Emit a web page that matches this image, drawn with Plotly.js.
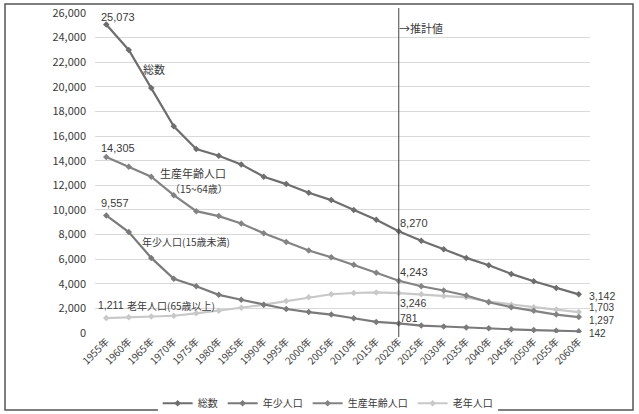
<!DOCTYPE html>
<html>
<head>
<meta charset="utf-8">
<script src="https://cdn.plot.ly/plotly-3.0.1.min.js"></script>
<style>html,body{margin:0;padding:0;background:#fff;}#chart{width:639px;height:414px;}</style>
</head>
<body>
<div id="chart"></div>
<script>
const years = [1955,1960,1965,1970,1975,1980,1985,1990,1995,2000,2005,2010,2015,2020,2025,2030,2035,2040,2045,2050,2055,2060];
const categories = years.map(y => y + '年');
const seriesNames = ['総数','年少人口','生産年齢人口','老年人口'];
const total   = [25073,23000,19900,16800,14950,14400,13700,12700,12100,11400,10800,10000,9200,8270,7500,6800,6100,5500,4800,4200,3650,3142];
const youth   = [9557,8200,6100,4400,3800,3100,2700,2300,1950,1700,1500,1200,900,781,600,530,440,380,300,240,190,142];
const working = [14305,13500,12700,11200,9900,9500,8900,8100,7400,6700,6150,5550,4900,4243,3800,3450,3050,2500,2100,1800,1500,1297];
const elderly = [1211,1280,1350,1400,1600,1800,2050,2300,2600,2900,3150,3250,3300,3246,3150,3000,2900,2550,2300,2100,1900,1703];
const projectionStart = '2020年';

const font = "'Noto Sans CJK JP', 'Noto Sans', sans-serif";
const numFont = "'Liberation Sans', Arial, sans-serif";
const txt = '#3a3a3a';
const colors = ['#6e6e6e','#7a7a7a','#838383','#c8c8c8'];
const data = [total, youth, working, elderly].map((vals, i) => ({
  type: 'scatter', mode: 'lines+markers', name: seriesNames[i],
  x: categories, y: vals,
  line: {color: colors[i], width: 2.2},
  marker: {color: colors[i], size: 5, symbol: 'diamond'},
  legendrank: i + 1
}));
// draw elderly below others
data.unshift(data.pop());

const fmt = v => v.toLocaleString('en-US');
const last = categories.length - 1;
const i2020 = categories.indexOf(projectionStart);
function ann(x, y, text, o, size) {
  return Object.assign({x: x, y: y, xref: 'x', yref: 'y', text: text, showarrow: false,
    font: {family: numFont, size: size || 11, color: txt}}, o || {});
}
function pann(px, py, text, size, o) {
  return Object.assign({xref: 'paper', yref: 'paper', x: (px-95)/495, y: (333-py)/320, xanchor: 'left', yanchor: 'middle',
    text: text, showarrow: false, font: {family: font, size: size, color: txt}}, o || {});
}
const annotations = [
  ann(categories[0], total[0], fmt(total[0]), {xanchor: 'left', yanchor: 'middle', xshift: -7, yshift: 7}),
  ann(categories[0], working[0], fmt(working[0]), {xanchor: 'left', yanchor: 'middle', xshift: -7, yshift: 9}),
  ann(categories[0], youth[0], fmt(youth[0]), {xanchor: 'left', yanchor: 'middle', xshift: -7, yshift: 12}),
  ann(categories[0], elderly[0], fmt(elderly[0]), {xanchor: 'left', yanchor: 'middle', xshift: -10, yshift: 13}, 10.5),
  ann(categories[i2020], total[i2020], fmt(total[i2020]), {xanchor: 'left', yanchor: 'middle', xshift: -1, yshift: 8}),
  ann(categories[i2020], working[i2020], fmt(working[i2020]), {xanchor: 'left', yanchor: 'middle', xshift: -1, yshift: 9}),
  ann(categories[i2020], elderly[i2020], fmt(elderly[i2020]), {xanchor: 'left', yanchor: 'middle', xshift: -1, yshift: -10}, 10.5),
  ann(categories[i2020], youth[i2020], fmt(youth[i2020]), {xanchor: 'left', yanchor: 'middle', xshift: -1, yshift: 5}, 10.5),
  ann(categories[last], total[last], fmt(total[last]), {xanchor: 'left', yanchor: 'middle', xshift: 8, yshift: -2}, 10.5),
  ann(categories[last], elderly[last], fmt(elderly[last]), {xanchor: 'left', yanchor: 'middle', xshift: 8, yshift: 5}, 10),
  ann(categories[last], working[last], fmt(working[last]), {xanchor: 'left', yanchor: 'middle', xshift: 8, yshift: -3}, 10),
  ann(categories[last], youth[last], fmt(youth[last]), {xanchor: 'left', yanchor: 'middle', xshift: 8, yshift: -2}, 10),
  // series name labels
  pann(141, 69, '総数', 11),
  pann(158, 173, '生産年齢人口', 11),
  pann(168, 188, '（15~64歳）', 10),
  pann(140, 241, '年少人口(15歳未満)', 10),
  pann(125, 305, '老年人口(65歳以上)', 10),
  pann(397, 28, '→推計値', 11)
];

const layout = {
  width: 639, height: 414,
  margin: {l: 95, r: 49, t: 13, b: 81, autoexpand: false},
  paper_bgcolor: '#ffffff', plot_bgcolor: '#ffffff',
  font: {family: font, size: 11, color: txt},
  showlegend: true,
  legend: {orientation: 'h', x: 0.47, xanchor: 'center', yref: 'container', y: 0.026, yanchor: 'middle',
    font: {family: font, size: 10, color: txt}, traceorder: 'normal', itemwidth: 30},
  xaxis: {type: 'category', range: [-0.5, 21.5], tickangle: -45, showgrid: false, zeroline: false, automargin: false,
    showline: false, ticks: '', tickfont: {family: font, size: 10, color: txt}, fixedrange: true},
  yaxis: {range: [0, 26000], dtick: 2000, tick0: 0, tickformat: ',d', showgrid: true, gridcolor: '#d9d9d9',
    gridwidth: 1, zeroline: false, showline: false, ticks: '', automargin: false, ticklabelstandoff: 8,
    tickfont: {family: font, size: 11, color: txt}, fixedrange: true},
  shapes: [
    {type: 'line', xref: 'x', yref: 'paper', x0: projectionStart, x1: projectionStart, y0: -0.0125, y1: 1.0156,
      line: {color: '#444', width: 1}},
    {type: 'rect', xref: 'paper', yref: 'paper', x0: (5-95)/495, x1: (633-95)/495, y0: (333-410)/320, y1: (333-4)/320,
      line: {color: '#555', width: 1.5}, fillcolor: 'rgba(0,0,0,0)'}
  ],
  annotations: annotations
};
Plotly.newPlot('chart', data, layout, {staticPlot: true, displayModeBar: false});
</script>
</body>
</html>
